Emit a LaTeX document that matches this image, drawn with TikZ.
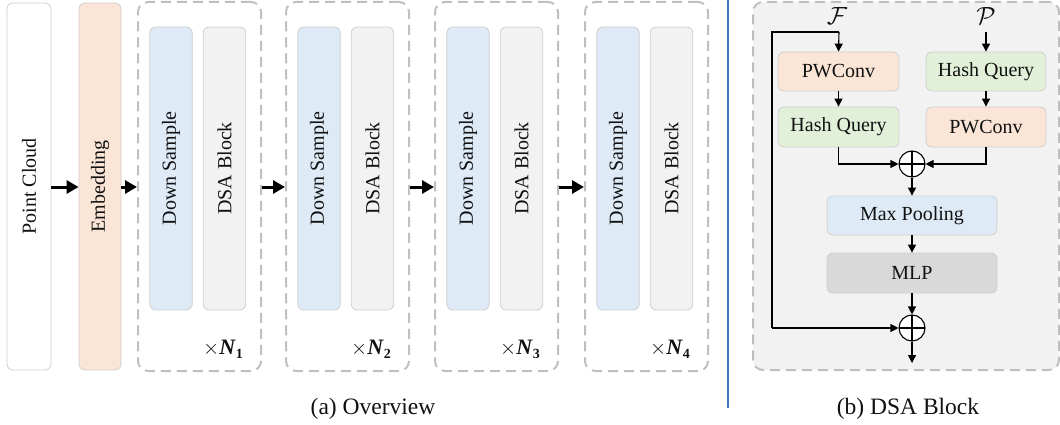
\documentclass[tikz,border=0pt]{standalone}
\usepackage{fontspec}
\setmainfont{Liberation Serif}
\usetikzlibrary{arrows.meta}
\definecolor{peach}{HTML}{FBE5D6}
\definecolor{lgreen}{HTML}{E2F0D9}
\definecolor{lblue}{HTML}{DEEAF6}
\definecolor{lgray}{HTML}{F2F2F2}
\definecolor{mgray}{HTML}{D9D9D9}
\definecolor{bordergray}{HTML}{CFCFCF}
\definecolor{dashgray}{HTML}{BFBFBF}
\definecolor{sepblue}{HTML}{4472C4}
\definecolor{txt}{HTML}{111111}
\tikzset{
  blk/.style={draw=bordergray, line width=0.8pt, rounded corners=6pt, inner sep=0pt, text=txt,
    font=\fontsize{20}{24}\selectfont},
  vblk/.style={blk, rotate=90},
  grp/.style={draw=dashgray, line width=2pt, dash pattern=on 10pt off 6pt, rounded corners=10pt, inner sep=0pt,
    minimum width=123pt, minimum height=369pt},
  bigarrow/.style={line width=3pt, -{Triangle[length=12pt,width=13pt]}},
  smallarrow/.style={line width=1.1pt, -{Triangle[length=8pt,width=8pt]}},
  plusnode/.style={circle, draw, line width=1.1pt, fill=white, minimum size=26pt, inner sep=0pt,
    path picture={\draw[line width=1.1pt] (path picture bounding box.north) -- (path picture bounding box.south)
      (path picture bounding box.west) -- (path picture bounding box.east);}},
  captext/.style={font=\fontsize{23.5}{28}\selectfont, text=txt},
  rep/.style={font=\fontsize{22}{26}\selectfont, text=txt, inner sep=0pt},
  sym/.style={text=txt, font=\fontsize{24}{28}\selectfont, inner sep=0pt}
}
\newcommand{\repl}[1]{$\times$\textbf{\textit{N}}\raisebox{-4pt}{\fontsize{14}{14}\selectfont\textbf{#1}}}
\begin{document}
\begin{tikzpicture}[x=1pt,y=-1pt]
\useasboundingbox (0,0) rectangle (1060,425);
% overview
\node[vblk, fill=white, minimum width=367pt, minimum height=44pt] (pc) at (29,186.5) {Point Cloud};
\node[vblk, fill=peach, minimum width=367pt, minimum height=42pt] (emb) at (100,186.5) {Embedding};
\foreach \i/\x in {1/138,2/286,3/435,4/585}{
  \node[grp] (g\i) at (\x+61.5,186.5) {};
  \node[vblk, fill=lblue, minimum width=283pt, minimum height=42.5pt] (ds\i) at (\x+33,168.5) {Down Sample};
  \node[vblk, fill=lgray, minimum width=283pt, minimum height=42.5pt] (dsa\i) at (\x+86.5,168.5) {DSA Block};
  \node[rep] (n\i) at (\x+85,349) {\repl{\i}};
}
\draw[bigarrow] (pc.south |- 0,187) -- (emb.north |- 0,187);
\draw[bigarrow] (emb.south |- 0,187) -- (g1.west |- 0,187);
\draw[bigarrow] (g1.east |- 0,187) -- (g2.west |- 0,187);
\draw[bigarrow] (g2.east |- 0,187) -- (g3.west |- 0,187);
\draw[bigarrow] (g3.east |- 0,187) -- (g4.west |- 0,187);
\node[captext] (capa) at (373,409) {(a) Overview};
% separator
\coordinate (s1) at (728,0);
\coordinate (s2) at (728,408);
\draw[sepblue, line width=2.2pt] (s1) -- (s2);
% DSA block panel
\node[draw=dashgray, fill=lgray, line width=2pt, dash pattern=on 10pt off 6pt, rounded corners=10pt,
  minimum width=306pt, minimum height=368pt, inner sep=0pt] (panel) at (906,186) {};
\node[blk, fill=peach, minimum width=121pt, minimum height=39pt] (pw1) at (838.5,71.5) {PWConv};
\node[blk, fill=lgreen, minimum width=121pt, minimum height=40pt] (hq1) at (838.5,127) {Hash Query};
\node[blk, fill=lgreen, minimum width=120pt, minimum height=39pt] (hq2) at (986,71.5) {Hash Query};
\node[blk, fill=peach, minimum width=120pt, minimum height=40pt] (pw2) at (986,127) {PWConv};
\node[plusnode] (p1) at (912,164) {};
\node[blk, fill=lblue, minimum width=170pt, minimum height=39pt] (mp) at (912,215.5) {Max Pooling};
\node[blk, fill=mgray, minimum width=170pt, minimum height=40pt] (mlp) at (912,273) {MLP};
\node[plusnode] (p2) at (912,328) {};
\node[sym] (F) at (837,16) {$\mathcal{F}$};
\node[sym] (P) at (986,16) {$\mathcal{P}$};
\coordinate (fin) at (839,32);
\coordinate (pin) at (986,32);
\coordinate (loopa) at (772,32);
\coordinate (loopb) at (772,328);
\coordinate (out) at (912,363);
\draw[smallarrow] (fin) -- (pw1.north);
\draw[smallarrow] (pin) -- (hq2.north);
\draw[smallarrow] (pw1) -- (hq1);
\draw[smallarrow] (hq2) -- (pw2);
\draw[smallarrow] (hq1.south) |- (p1.west);
\draw[smallarrow] (pw2.south) |- (p1.east);
\draw[smallarrow] (p1) -- (mp);
\draw[smallarrow] (mp) -- (mlp);
\draw[smallarrow] (mlp) -- (p2);
\draw[line width=1.1pt] (fin) -- (loopa) -- (loopb);
\draw[smallarrow] (loopb) -- (p2.west);
\draw[smallarrow] (p2.south) -- (out);
\node[captext] (capb) at (908,409) {(b) DSA Block};
\end{tikzpicture}
\end{document}
